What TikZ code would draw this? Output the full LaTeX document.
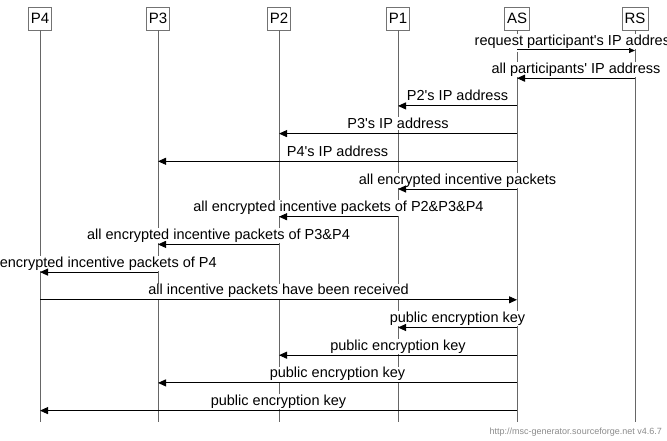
\documentclass[tikz,border=0pt]{standalone}
\usepackage{fontspec}
\setmainfont{Liberation Sans}
\usetikzlibrary{arrows.meta,calc}
\newcommand{\msgrow}[6][msg]{% #2 name, #3 from, #4 to, #5 y, #6 text
  \coordinate (#2f) at (#3 |- 0,#5);
  \coordinate (#2t) at (#4 |- 0,#5);
  \node[lbl] (#2) at ($(#2f)!0.5!(#2t)+(0,-5)$) {#6};
  \draw[#1] (#2f) -- (#2t);
}
\newcommand{\q}{\textquotesingle}
\begin{document}
\begin{tikzpicture}[x=1pt,y=-1pt,
  hdr/.style={draw=black!55, line width=0.8pt, fill=white, inner sep=2.5pt, minimum height=23pt, font=\fontsize{15}{17}\selectfont},
  life/.style={draw=black!60, line width=1pt},
  msg/.style={draw=black, line width=0.9pt, -{Triangle[length=8pt,width=7pt]}},
  dmsg/.style={draw=black, line width=0.7pt, double, double distance=2pt, -{Triangle[length=6pt,width=5pt]}},
  lbl/.style={fill=white, inner sep=0.8pt, anchor=base, font=\fontsize{14.5}{16}\selectfont},
  wm/.style={text=black!45, font=\fontsize{9}{10}\selectfont, anchor=base east, inner sep=0pt}]
\useasboundingbox (0,0) rectangle (667,440);
\clip (0,0) rectangle (667,440);
\fill[white] (0,0) rectangle (667,440);
% headers
\foreach \n/\x in {P4/40,P3/158,P2/279,P1/398,AS/517,RS/635}{
  \node[hdr] (\n) at (\x,18.5) {\n};
  \coordinate (\n e) at (\x,422);
  \draw[life] (\n.south) -- (\n e);
}
\msgrow[dmsg]{m1}{AS}{RS}{50.5}{request participant\q s IP address}
\msgrow{m2}{RS}{AS}{78.2}{all participants\q\ IP address}
\msgrow{m3}{AS}{P1}{105.9}{P2\q s IP address}
\msgrow{m4}{AS}{P2}{133.6}{P3\q s IP address}
\msgrow{m5}{AS}{P3}{161.3}{P4\q s IP address}
\msgrow{m6}{AS}{P1}{189}{all encrypted incentive packets}
\msgrow{m7}{P1}{P2}{216.7}{all encrypted incentive packets of P2\&P3\&P4}
\msgrow{m8}{P2}{P3}{244.4}{all encrypted incentive packets of P3\&P4}
\msgrow{m9}{P3}{P4}{272.1}{all encrypted incentive packets of P4}
\msgrow{m10}{P4}{AS}{299.8}{all incentive packets have been received}
\msgrow{m11}{AS}{P1}{327.5}{public encryption key}
\msgrow{m12}{AS}{P2}{355.2}{public encryption key}
\msgrow{m13}{AS}{P3}{382.9}{public encryption key}
\msgrow{m14}{AS}{P4}{410.6}{public encryption key}
\node[wm] (wm) at (662,434) {http://msc-generator.sourceforge.net v4.6.7};
\end{tikzpicture}
\end{document}
